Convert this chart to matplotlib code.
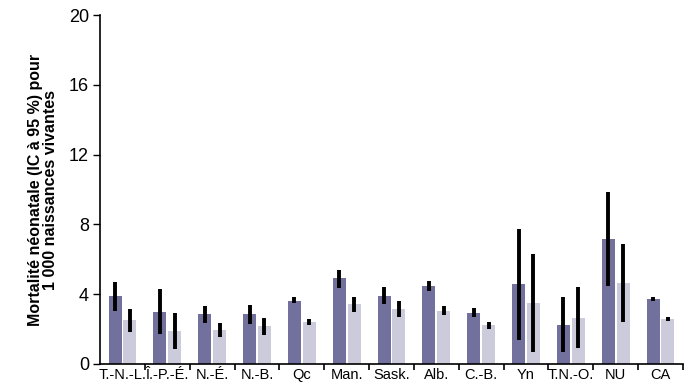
import numpy as np
import matplotlib
matplotlib.use("Agg")
import matplotlib.pyplot as plt
from matplotlib.ticker import FixedLocator

plt.rcParams['font.family'] = ['Liberation Sans', 'DejaVu Sans']

# provinces / territories
categories = ["T.-N.-L.", "Î.-P.-É.", "N.-É.", "N.-B.", "Qc", "Man.", "Sask.",
              "Alb.", "C.-B.", "Yn", "T.N.-O.", "NU", "CA"]

# first period (dark bars)
dark_vals = [3.9, 3.0, 2.87, 2.87, 3.61, 4.93, 3.9, 4.47, 2.92, 4.6, 2.25, 7.16, 3.72]
dark_lo = [3.04, 1.72, 2.37, 2.27, 3.48, 4.37, 3.42, 4.2, 2.71, 1.39, 0.67, 4.47, 3.61]
dark_hi = [4.7, 4.3, 3.34, 3.38, 3.82, 5.4, 4.4, 4.76, 3.19, 7.74, 3.82, 9.87, 3.84]

# second period (light bars)
light_vals = [2.52, 1.91, 1.95, 2.18, 2.41, 3.44, 3.15, 3.05, 2.23, 3.5, 2.66, 4.64, 2.58]
light_lo = [1.83, 0.86, 1.55, 1.66, 2.25, 3.0, 2.71, 2.81, 2.0, 0.67, 0.9, 2.42, 2.48]
light_hi = [3.15, 2.92, 2.35, 2.62, 2.56, 3.84, 3.61, 3.32, 2.42, 6.3, 4.4, 6.86, 2.69]

fig = plt.figure(figsize=(6.91, 3.89), dpi=100)
ax = fig.add_axes([0.1447, 0.0643, 0.8437, 0.8971])

x = np.arange(len(categories))
w = 0.29
off = 0.165

dark_err = [np.array(dark_vals) - np.array(dark_lo), np.array(dark_hi) - np.array(dark_vals)]
light_err = [np.array(light_vals) - np.array(light_lo), np.array(light_hi) - np.array(light_vals)]

ax.bar(x - off, dark_vals, w, color='#72709c', zorder=2)
ax.bar(x + off, light_vals, w, color='#cccbdc', zorder=2)
ax.errorbar(x - off, dark_vals, yerr=dark_err, fmt='none', ecolor='black',
            elinewidth=2.8, capsize=0, zorder=3)
ax.errorbar(x + off, light_vals, yerr=light_err, fmt='none', ecolor='black',
            elinewidth=2.8, capsize=0, zorder=3)

ax.set_xlim(-0.5, len(categories) - 0.5)
ax.set_ylim(0, 20)
ax.set_yticks([0, 4, 8, 12, 16, 20])
ax.set_xticks(x)
ax.set_xticklabels(categories)
ax.xaxis.set_minor_locator(FixedLocator(np.arange(0.5, len(categories), 1.0)))
ax.tick_params(axis='x', which='major', length=0, labelsize=10.5, pad=3)
ax.tick_params(axis='x', which='minor', length=4, width=1.2, direction='out')
ax.tick_params(axis='y', length=5, width=1, labelsize=13, pad=3)

for s in ['top', 'right']:
    ax.spines[s].set_visible(False)
ax.spines['left'].set_linewidth(1.2)
ax.spines['bottom'].set_linewidth(1.2)

ax.set_ylabel("Mortalité néonatale (IC à 95 %) pour\n1 000 naissances vivantes",
              fontsize=11.5, fontweight='bold', linespacing=1.0, labelpad=8)

fig.savefig("out.png", dpi=100)
